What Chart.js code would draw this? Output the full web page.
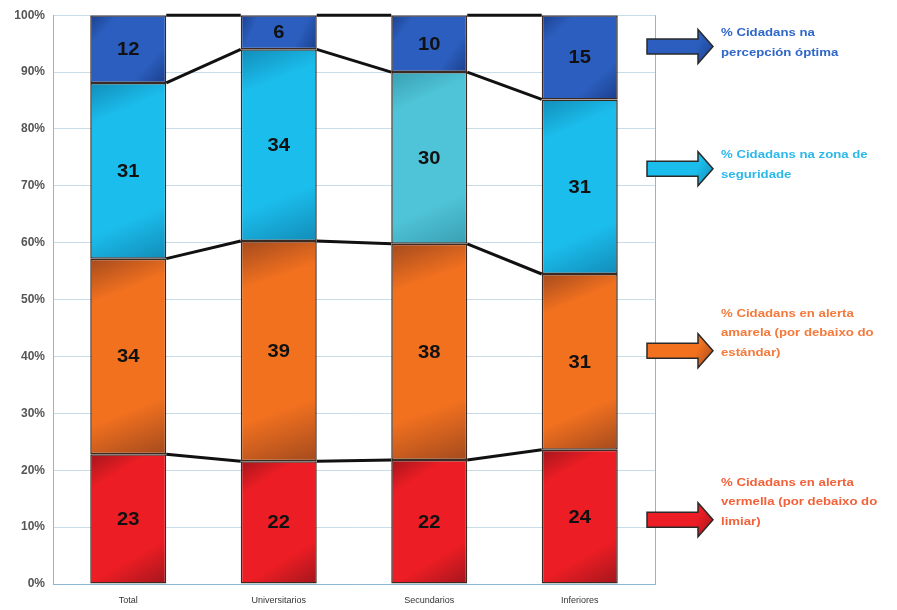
<!DOCTYPE html>
<html><head><meta charset="utf-8">
<script src="https://cdn.jsdelivr.net/npm/chart.js@4"></script>
<style>html,body{margin:0;padding:0;background:#fff}</style>
</head><body>
<canvas id="c" width="897" height="610"></canvas>
<script>
// ---- data ----
const categories = ['Total', 'Universitarios', 'Secundarios', 'Inferiores'];
const redValues       = [22.8, 21.6, 21.8, 23.6];
const orangeValues    = [34.4, 38.7, 38.0, 30.9];
const lightBlueValues = [30.9, 33.7, 30.2, 30.7];
const darkBlueValues  = [11.9, 6.0, 10.0, 14.8];
const redLabels       = ['23', '22', '22', '24'];
const orangeLabels    = ['34', '39', '38', '31'];
const lightBlueLabels = ['31', '34', '30', '31'];
const darkBlueLabels  = ['12', '6', '10', '15'];
const seriesNames = [
  '% Cidadans en alerta vermella (por debaixo do limiar)',
  '% Cidadans en alerta amarela (por debaixo do estándar)',
  '% Cidadans na zona de seguridade',
  '% Cidadans na percepción óptima'
];
const legendLines = [
  ['% Cidadans en alerta', 'vermella (por debaixo do', 'limiar)'],
  ['% Cidadans en alerta', 'amarela (por debaixo do', 'estándar)'],
  ['% Cidadans na zona de', 'seguridade'],
  ['% Cidadans na', 'percepción óptima']
];
const legendAnchors = [11.3, 41, 73, 94.5];
const yTickValues = [0, 10, 20, 30, 40, 50, 60, 70, 80, 90, 100];

// ---- styles ----
const baseColors = [
  ['#EC1D24', '#EC1D24', '#EC1D24', '#EC1D24'],
  ['#F2711F', '#F2711F', '#F2711F', '#F2711F'],
  ['#1BBDEC', '#1BBDEC', '#4FC4D8', '#1BBDEC'],
  ['#2B5EBE', '#2B5EBE', '#2B5EBE', '#2B5EBE']
];
const darkColors = [
  ['#A3161C', '#A3161C', '#A3161C', '#A3161C'],
  ['#A44A1E', '#A44A1E', '#A44A1E', '#A44A1E'],
  ['#128CB8', '#128CB8', '#3A9FB2', '#128CB8'],
  ['#1B3F8C', '#1B3F8C', '#1B3F8C', '#1B3F8C']
];
const legendTextColors = ['#F2623A', '#F47A3C', '#2DB8EA', '#2F66C8'];
const allLabels = [redLabels, orangeLabels, lightBlueLabels, darkBlueLabels];

const decor = {
  id: 'decor',
  beforeDatasetsDraw(chart) {
    const ctx = chart.ctx;
    chart.data.datasets.forEach((ds, k) => {
      const meta = chart.getDatasetMeta(k);
      meta.data.forEach((el, i) => {
        const x0 = el.x - el.width / 2, x1 = el.x + el.width / 2;
        const top = Math.min(el.y, el.base), bot = Math.max(el.y, el.base);
        const g = ctx.createLinearGradient(x0, top, x1, bot);
        g.addColorStop(0, darkColors[k][i]);
        g.addColorStop(0.2, baseColors[k][i]);
        g.addColorStop(0.74, baseColors[k][i]);
        g.addColorStop(1, darkColors[k][i]);
        el.options.backgroundColor = g;
      });
    });
  },
  afterDatasetsDraw(chart) {
    const ctx = chart.ctx;
    const area = chart.chartArea;
    // right border of plot
    ctx.save();
    ctx.strokeStyle = '#8DB6D2';
    ctx.lineWidth = 1;
    ctx.beginPath();
    ctx.moveTo(Math.round(area.right) + 0.5, area.top);
    ctx.lineTo(Math.round(area.right) + 0.5, area.bottom);
    ctx.stroke();
    // series lines
    ctx.strokeStyle = '#111';
    ctx.lineWidth = 3;
    chart.data.datasets.forEach((ds, k) => {
      const meta = chart.getDatasetMeta(k);
      for (let i = 0; i < meta.data.length - 1; i++) {
        const a = meta.data[i], b = meta.data[i + 1];
        ctx.beginPath();
        ctx.moveTo(a.x + a.width / 2, a.y);
        ctx.lineTo(b.x - b.width / 2, b.y);
        ctx.stroke();
      }
    });
    // data labels
    ctx.fillStyle = '#111';
    ctx.font = 'bold 18px "Liberation Sans", Arial, sans-serif';
    ctx.textAlign = 'center';
    ctx.textBaseline = 'middle';
    chart.data.datasets.forEach((ds, k) => {
      const meta = chart.getDatasetMeta(k);
      meta.data.forEach((el, i) => {
        const cy = (el.y + el.base) / 2;
        ctx.save();
        ctx.translate(el.x, cy + 1);
        ctx.scale(1.12, 1);
        ctx.fillText(allLabels[k][i], 0, 0);
        ctx.restore();
      });
    });
    ctx.restore();
  },
  afterDraw(chart) {
    const ctx = chart.ctx;
    const area = chart.chartArea;
    const ys = chart.scales.y;
    ctx.save();
    legendAnchors.forEach((v, k) => {
      const cy = ys.getPixelForValue(v);
      const x0 = area.right - 8, xh = area.right + 43, xt = area.right + 58;
      ctx.beginPath();
      ctx.moveTo(x0, cy - 7.5);
      ctx.lineTo(xh, cy - 7.5);
      ctx.lineTo(xh, cy - 17);
      ctx.lineTo(xt, cy);
      ctx.lineTo(xh, cy + 17);
      ctx.lineTo(xh, cy + 7.5);
      ctx.lineTo(x0, cy + 7.5);
      ctx.closePath();
      const g = ctx.createLinearGradient(x0, cy - 17, xt, cy + 17);
      g.addColorStop(0, baseColors[k][0]);
      g.addColorStop(0.7, baseColors[k][0]);
      g.addColorStop(1, darkColors[k][0]);
      ctx.fillStyle = g;
      ctx.fill();
      ctx.strokeStyle = '#2a2a2a';
      ctx.lineWidth = 1.5;
      ctx.stroke();
      // text
      const lines = legendLines[k];
      ctx.fillStyle = legendTextColors[k];
      ctx.font = 'bold 11px "Liberation Sans", Arial, sans-serif';
      ctx.textAlign = 'left';
      ctx.textBaseline = 'middle';
      const lastY = cy + (lines.length === 2 ? 6 : 2);
      lines.forEach((t, j) => {
        const ly = lastY - (lines.length - 1 - j) * 19.5;
        ctx.save();
        ctx.translate(area.right + 66, ly);
        ctx.scale(1.2, 1);
        ctx.fillText(t, 0, 0);
        ctx.restore();
      });
    });
    ctx.restore();
  }
};

const datasetValues = [redValues, orangeValues, lightBlueValues, darkBlueValues];
new Chart(document.getElementById('c'), {
  type: 'bar',
  data: {
    labels: categories,
    datasets: datasetValues.map((vals, k) => ({
      label: seriesNames[k],
      data: vals,
      backgroundColor: baseColors[k],
      borderColor: '#3a2a22',
      borderWidth: 1.5,
      borderSkipped: false,
      barPercentage: 0.505,
      categoryPercentage: 1.0
    }))
  },
  options: {
    responsive: false,
    devicePixelRatio: 1,
    animation: false,
    layout: { padding: { left: 0, right: 242, top: 15, bottom: 0 } },
    plugins: { legend: { display: false }, tooltip: { enabled: false } },
    scales: {
      x: {
        stacked: true,
        grid: { display: false },
        border: { color: '#8DB6D2', width: 1 },
        ticks: { color: '#333', font: { family: '"Liberation Sans", Arial, sans-serif', size: 9 }, padding: 3, maxRotation: 0 },
        afterFit(scale) { scale.height = 26; }
      },
      y: {
        stacked: true,
        min: 0, max: 100,
        afterBuildTicks(scale) { scale.ticks = yTickValues.map(v => ({ value: v })); },
        ticks: {
          color: '#555',
          font: { family: '"Liberation Sans", Arial, sans-serif', size: 12, weight: 'bold' },
          padding: 8,
          callback: v => v + '%'
        },
        grid: { color: '#C9DCEA', lineWidth: 1, drawTicks: false },
        border: { color: '#8DB6D2', width: 1 },
        afterFit(scale) { scale.width = 53; }
      }
    }
  },
  plugins: [decor]
});
</script>
</body></html>
